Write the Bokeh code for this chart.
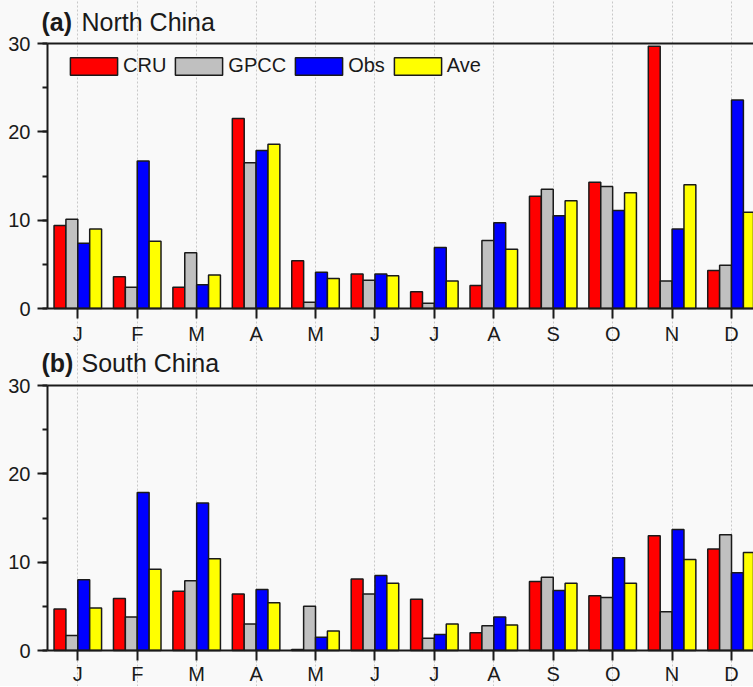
from bokeh.plotting import figure
from bokeh.models import (Range1d, FixedTicker, SingleIntervalTicker, LinearAxis,
                          Legend, LegendItem, Label)
from bokeh.layouts import column
from bokeh.embed import file_html
from bokeh.resources import INLINE

months = ["J", "F", "M", "A", "M", "J", "J", "A", "S", "O", "N", "D"]
series_names = ["CRU", "GPCC", "Obs", "Ave"]
series_colors = ["#ff0000", "#c0c0c0", "#0000ff", "#ffff00"]

# (a) North China
cru_n = [9.4, 3.6, 2.4, 21.5, 5.4, 3.9, 1.9, 2.6, 12.7, 14.3, 29.7, 4.3]
gpcc_n = [10.1, 2.4, 6.3, 16.5, 0.7, 3.2, 0.6, 7.7, 13.5, 13.8, 3.1, 4.9]
obs_n = [7.4, 16.7, 2.7, 17.9, 4.1, 3.9, 6.9, 9.7, 10.5, 11.1, 9.0, 23.6]
ave_n = [9.0, 7.6, 3.8, 18.6, 3.4, 3.7, 3.1, 6.7, 12.2, 13.1, 14.0, 10.9]

# (b) South China
cru_s = [4.7, 5.9, 6.7, 6.4, 0.1, 8.1, 5.8, 2.0, 7.8, 6.2, 13.0, 11.5]
gpcc_s = [1.7, 3.8, 7.9, 3.0, 5.0, 6.4, 1.4, 2.8, 8.3, 6.0, 4.4, 13.1]
obs_s = [8.0, 17.9, 16.7, 6.9, 1.5, 8.5, 1.8, 3.8, 6.8, 10.5, 13.7, 8.8]
ave_s = [4.8, 9.2, 10.4, 5.4, 2.2, 7.6, 3.0, 2.9, 7.6, 7.6, 10.3, 11.1]

FONT = "Liberation Sans"
BG = "#f9f9f9"
INK = "#1a1a1a"
month_pos = list(range(1, 13))
offsets = [-0.3, -0.1, 0.1, 0.3]
W = 753
PX_PER_MONTH = 59.43
X_AXIS_AT = 0.49               # where the left axis sits, in months
X_START = X_AXIS_AT - 47 / PX_PER_MONTH
X_END = 12.37


def make_panel(tag, name, data, height, zero_px, px_per_unit, title_y_px,
               label_standoff, legend_loc):
    # zero_px: distance of the y=0 line from the top of this figure
    y_end = zero_px / px_per_unit
    y_start = -(height - zero_px) / px_per_unit
    p = figure(width=W, height=height, output_backend="svg", toolbar_location=None,
               x_range=Range1d(X_START, X_END), y_range=Range1d(y_start, y_end),
               min_border=0, background_fill_color=BG, border_fill_color=BG,
               outline_line_color=None)
    p.ygrid.grid_line_color = None
    p.xgrid.grid_line_color = "#c8c8c8"
    p.xgrid.grid_line_dash = "2 2"
    p.xgrid.grid_line_width = 1
    p.xgrid.bounds = (0, 30)

    p.xaxis.ticker = FixedTicker(ticks=month_pos)
    p.xaxis.major_label_overrides = {i + 1: m for i, m in enumerate(months)}
    p.xaxis.bounds = (X_AXIS_AT, X_END)
    p.xaxis.fixed_location = 0
    p.yaxis.ticker = SingleIntervalTicker(interval=10, num_minor_ticks=2)
    p.yaxis.bounds = (0, 30)
    p.yaxis.fixed_location = X_AXIS_AT
    for ax in (p.xaxis[0], p.yaxis[0]):
        ax.axis_line_color = INK
        ax.axis_line_width = 2
        ax.major_tick_line_color = INK
        ax.major_tick_line_width = 2
        ax.major_tick_in = 0
        ax.major_tick_out = 10
        ax.major_label_text_font = FONT
        ax.major_label_text_font_size = "20px"
        ax.major_label_text_color = INK
    p.xaxis.minor_tick_line_color = None
    p.xaxis.major_label_standoff = label_standoff
    p.yaxis.minor_tick_line_color = INK
    p.yaxis.minor_tick_line_width = 2
    p.yaxis.minor_tick_in = 0
    p.yaxis.minor_tick_out = 5
    p.yaxis.major_label_standoff = 7

    # top frame line at y = 30
    top_line = LinearAxis(fixed_location=30, ticker=FixedTicker(ticks=[]),
                          bounds=(X_AXIS_AT, X_END), axis_line_color=INK,
                          axis_line_width=2, major_tick_line_color=None,
                          minor_tick_line_color=None)
    p.add_layout(top_line, "above")

    renderers = []
    for off, vals, col in zip(offsets, data, series_colors):
        r = p.vbar(x=[m + off for m in month_pos], top=vals, width=0.2, bottom=0,
                   fill_color=col, line_color=INK, line_width=1.5)
        renderers.append(r)

    ty = title_y_px / px_per_unit
    p.add_layout(Label(x=X_START + 41 / PX_PER_MONTH, y=ty, text=tag, text_font=FONT,
                       text_font_size="25px", text_font_style="bold", text_color=INK,
                       text_baseline="alphabetic"))
    p.add_layout(Label(x=X_START + 81 / PX_PER_MONTH, y=ty, text=name, text_font=FONT,
                       text_font_size="25px", text_color=INK, text_baseline="alphabetic"))

    if legend_loc is not None:
        items = [LegendItem(label=n, renderers=[r]) for n, r in zip(series_names, renderers)]
        lg = Legend(items=items, orientation="horizontal", location=legend_loc,
                    glyph_width=59, glyph_height=22, label_height=22,
                    label_standoff=0, spacing=3, padding=0, margin=0,
                    border_line_color=None, background_fill_alpha=0,
                    label_text_font=FONT, label_text_font_size="20px",
                    label_text_color=INK)
        p.add_layout(lg, "center")
    return p


# panel a: figure 0..347 px, y=0 at 308 px, 30 units -> 265 px
pa = make_panel("(a)", "North China", [cru_n, gpcc_n, obs_n, ave_n], 347, 308,
                265 / 30, 287, 4, (64, 270))
# panel b: figure 347..686 px, y=0 at 650 px (303 from its top), 30 units -> 265 px
pb = make_panel("(b)", "South China", [cru_s, gpcc_s, obs_s, ave_s], 339, 303,
                265 / 30, 288, 2, None)

layout = column(pa, pb, spacing=0)
layout.background = BG
open("out.html", "w").write(file_html(layout, INLINE))
